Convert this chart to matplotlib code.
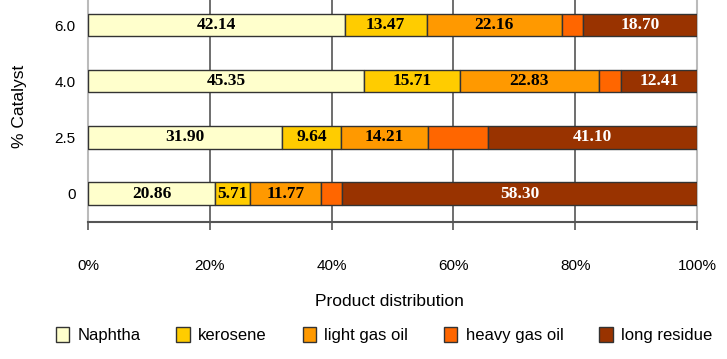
import matplotlib.pyplot as plt
import numpy as np

# data
catalyst = ['0', '2.5', '4.0', '6.0']
naphtha = [20.86, 31.90, 45.35, 42.14]
kerosene = [5.71, 9.64, 15.71, 13.47]
light_gas_oil = [11.77, 14.21, 22.83, 22.16]
heavy_gas_oil = [3.36, 9.90, 3.70, 3.53]
long_residue = [58.30, 34.35, 12.41, 18.70]
long_residue_text = ['58.30', '41.10', '12.41', '18.70']

series = [
    ('Naphtha', naphtha, '#FFFFCC', 'black', True),
    ('kerosene', kerosene, '#FFCC00', 'black', True),
    ('light gas oil', light_gas_oil, '#FF9900', 'black', True),
    ('heavy gas oil', heavy_gas_oil, '#FF6600', 'black', False),
    ('long residue', long_residue, '#993300', 'white', True),
]

plt.rcParams['font.family'] = ['Liberation Sans', 'DejaVu Sans']

fig = plt.figure(figsize=(7.27, 3.59), dpi=100)
ax = fig.add_axes([88/727, 1-221.7/359, 609/727, 224.7/359])

y = np.arange(len(catalyst))
left = np.zeros(len(catalyst))
for name, vals, color, tcolor, show in series:
    vals = np.array(vals)
    ax.barh(y, vals, left=left, height=0.4, color=color, edgecolor='#333333',
            linewidth=1, label=name, zorder=3)
    if show:
        for i, v in enumerate(vals):
            txt = long_residue_text[i] if name == 'long residue' else '%.2f' % v
            ax.text(left[i] + v/2, y[i], txt, ha='center', va='center',
                    color=tcolor, fontsize=12.5, fontweight='bold',
                    family='Liberation Serif', zorder=4)
    left = left + vals

ax.set_xlim(0, 100)
ax.set_ylim(-0.5, 3.5)
ax.set_yticks(y)
ax.set_yticklabels(catalyst, fontsize=11)
ax.tick_params(axis='y', length=0, pad=9)
ax.set_xticks(np.arange(0, 101, 20))
ax.set_xticklabels(['0%', '20%', '40%', '60%', '80%', '100%'], fontsize=11)
ax.tick_params(axis='x', length=6, width=1.2, color='#555555', pad=21)
ax.xaxis.grid(True, color='#555555', linewidth=1.2, zorder=0)
ax.set_axisbelow(True)

ax.spines['top'].set_visible(False)
ax.spines['left'].set_color('#bbbbbb')
ax.spines['right'].set_color('#bbbbbb')
ax.spines['left'].set_linewidth(1.5)
ax.spines['right'].set_linewidth(1.5)
ax.spines['bottom'].set_color('#555555')
ax.spines['bottom'].set_linewidth(1.5)

fig.text(389/727, 1-302/359, 'Product distribution', ha='center', va='center', fontsize=12.5)
fig.text(20/727, 1-106/359, '% Catalyst', ha='center', va='center', rotation=90, fontsize=12.5)

handles, labels = ax.get_legend_handles_labels()
fig.legend(handles, labels, loc='center', bbox_to_anchor=(384/727, 1-335/359), ncol=5,
           frameon=False, fontsize=12, handlelength=0.8, handleheight=1.0,
           handletextpad=0.5, columnspacing=2.15)

plt.savefig('out.png', dpi=100)
